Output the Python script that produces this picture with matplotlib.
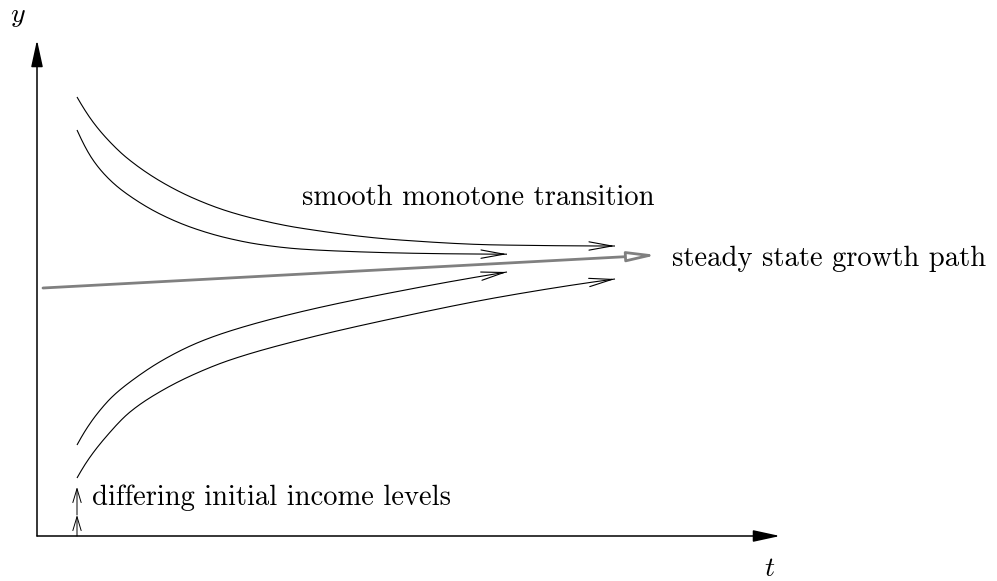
import matplotlib
matplotlib.use("Agg")
import matplotlib.pyplot as plt
import numpy as np

plt.rcParams['mathtext.fontset'] = 'cm'

# transition paths (t, y), origin at the axes corner
upper_outer_t = [4.0, 5.6, 7.3, 9.0, 12.3, 15.6, 19.0, 22.3, 26.3, 36.3, 46.3, 57.8]
upper_outer_y = [43.9, 41.4, 39.4, 37.8, 35.5, 33.8, 32.5, 31.6, 30.8, 29.6, 29.1, 29.0]

upper_inner_t = [4.0, 5.6, 7.3, 9.0, 12.3, 15.6, 19.0, 22.3, 26.3, 31.3, 36.3, 41.3, 47.0]
upper_inner_y = [40.6, 37.6, 35.6, 34.2, 32.2, 30.8, 29.8, 29.15, 28.7, 28.45, 28.3, 28.22, 28.18]

lower_inner_t = [4.0, 5.0, 6.0, 7.5, 9.3, 12.6, 16.0, 19.3, 26.3, 36.3, 47.0]
lower_inner_y = [9.1, 10.8, 12.2, 13.9, 15.4, 17.6, 19.3, 20.5, 22.4, 24.5, 26.4]

lower_outer_t = [4.0, 5.1, 6.8, 9.3, 12.6, 16.0, 19.3, 26.3, 36.3, 46.3, 57.8]
lower_outer_y = [5.8, 7.6, 9.8, 12.4, 14.6, 16.3, 17.6, 19.6, 21.9, 23.9, 25.7]

# steady state growth path
steady_t = [0.6, 62.0]
steady_y = [24.8, 28.1]

# axes extent and the initial income marker
axis_t_end = 74.3
axis_y_end = 49.6
start_t = 4.0
start_marks = [0.0, 2.1, 4.9]

fig = plt.figure(figsize=(9.97, 5.81), dpi=100)
ax = fig.add_axes([0, 0, 1, 1])
ax.set_xlim(-3.7, 96.0)
ax.set_ylim(-4.5, 53.6)
ax.axis('off')


def arrow(x0, y0, x1, y1, style, color='black', lw=0.8, fc=None):
    props = dict(arrowstyle=style, color=color, lw=lw, shrinkA=0, shrinkB=0,
                 mutation_scale=10)
    if fc is not None:
        props['fc'] = fc
    ax.annotate('', xy=(x1, y1), xytext=(x0, y0), arrowprops=props)


def smooth(ts, ys, n=400):
    # monotone cubic (Fritsch-Carlson) through the read points, only for drawing
    x = np.asarray(ts, float)
    y = np.asarray(ys, float)
    h = np.diff(x)
    d = np.diff(y) / h
    m = np.zeros_like(y)
    for k in range(1, len(x) - 1):
        if d[k - 1] * d[k] > 0:
            w1 = 2 * h[k] + h[k - 1]
            w2 = h[k] + 2 * h[k - 1]
            m[k] = (w1 + w2) / (w1 / d[k - 1] + w2 / d[k])
    m0 = ((2 * h[0] + h[1]) * d[0] - h[0] * d[1]) / (h[0] + h[1])
    if np.sign(m0) != np.sign(d[0]):
        m0 = 0.0
    elif np.sign(d[0]) != np.sign(d[1]) and abs(m0) > abs(3 * d[0]):
        m0 = 3 * d[0]
    m[0] = m0
    mn = ((2 * h[-1] + h[-2]) * d[-1] - h[-1] * d[-2]) / (h[-1] + h[-2])
    if np.sign(mn) != np.sign(d[-1]):
        mn = 0.0
    elif np.sign(d[-1]) != np.sign(d[-2]) and abs(mn) > abs(3 * d[-1]):
        mn = 3 * d[-1]
    m[-1] = mn
    xs = np.linspace(x[0], x[-1], n)
    k = np.clip(np.searchsorted(x, xs) - 1, 0, len(x) - 2)
    s = (xs - x[k]) / h[k]
    h00 = 2 * s ** 3 - 3 * s ** 2 + 1
    h10 = s ** 3 - 2 * s ** 2 + s
    h01 = -2 * s ** 3 + 3 * s ** 2
    h11 = s ** 3 - s ** 2
    ys_out = h00 * y[k] + h10 * h[k] * m[k] + h01 * y[k + 1] + h11 * h[k] * m[k + 1]
    return xs, ys_out


# coordinate axes
arrow(0, 0, axis_t_end, 0, '-|>,head_length=1.65,head_width=0.36', lw=1.1, fc='black')
arrow(0, 0, 0, axis_y_end, '-|>,head_length=1.65,head_width=0.36', lw=1.1, fc='black')

# transition curves with open heads
for ts, ys in [(upper_outer_t, upper_outer_y), (upper_inner_t, upper_inner_y),
               (lower_inner_t, lower_inner_y), (lower_outer_t, lower_outer_y)]:
    sx, sy = smooth(ts, ys)
    ax.plot(sx, sy, color='black', lw=0.8, solid_capstyle='butt')
    arrow(sx[-6], sy[-6], sx[-1], sy[-1], '->,head_length=1.65,head_width=0.3', lw=0.8)

# steady state path, thick gray with open triangle head
arrow(steady_t[0], steady_y[0], steady_t[1], steady_y[1],
      '-|>,head_length=1.7,head_width=0.3', color='#808080', lw=2.0, fc='white')

# double arrow marking the initial income levels
for y0, y1 in zip(start_marks[:-1], start_marks[1:]):
    arrow(start_t, y0, start_t, y1, '->,head_length=1.0,head_width=0.3', lw=0.7)

txt = dict(fontfamily='cmr10', fontsize=20.6, color='black', va='baseline', ha='left')
ax.text(26.5, 33.1, 'smooth monotone transition', **txt)
ax.text(63.5, 27.0, 'steady state growth path', **txt)
ax.text(5.5, 3.1, 'differing initial income levels', **txt)

ax.text(-1.9, 51.4, '$y$', fontsize=20, ha='center', va='baseline')
ax.text(73.3, -3.2, '$t$', fontsize=20, ha='center', va='center')

fig.savefig('out.png', dpi=100)
